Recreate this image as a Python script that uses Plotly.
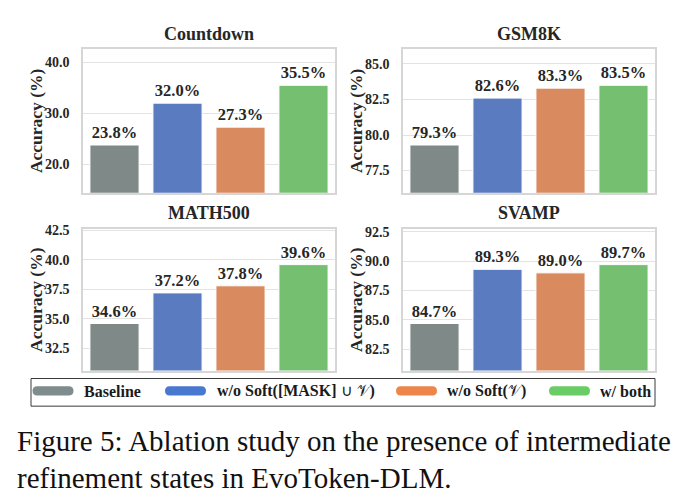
import math
import plotly.graph_objects as go

# ---------------- data ----------------
datasets = ["Countdown", "GSM8K", "MATH500", "SVAMP"]
methods = ["Baseline", "w/o Soft([MASK] ∪ 𝒱)", "w/o Soft(𝒱)", "w/ both"]
countdown = [23.8, 32.0, 27.3, 35.5]
gsm8k = [79.3, 82.6, 83.3, 83.5]
math500 = [34.6, 37.2, 37.8, 39.6]
svamp = [84.7, 89.3, 89.0, 89.7]
tick_steps = [10, 2.5, 2.5, 2.5]
ylabel = "Accuracy (%)"
caption_lines = [
    "Figure 5: Ablation study on the presence of intermediate",
    "refinement states in EvoToken-DLM.",
]

bar_colors = ["#7f8a88", "#5a7bbf", "#d98a5e", "#74c070"]
legend_colors = ["#7f8c8d", "#4878cf", "#ee854a", "#6acc64"]

W, H = 686, 503
SERIF = "Liberation Serif, Times New Roman, serif"
TXT = "#262626"


def px(p):
    return p / W


def py(p):
    return 1 - p / H


# panel boxes in pixels: (left, right, top, bottom)
boxes = [(83, 335, 44, 189), (403, 655, 44, 189),
         (83, 335, 226, 369), (403, 655, 226, 369)]
title_y = [28.5, 28.5, 209.5, 209.5]
values = [countdown, gsm8k, math500, svamp]

fig = go.Figure()
annotations = []
shapes = []

for i, (name, vals) in enumerate(zip(datasets, values)):
    ax = "" if i == 0 else str(i + 1)
    l, r, t, b = boxes[i]
    lo, hi = min(vals), max(vals)
    rng = hi - lo
    ymin, ymax = lo - 0.8 * rng, hi + 0.6 * rng
    fig.add_trace(go.Bar(
        x=methods, y=vals,
        xaxis="x" + ax, yaxis="y" + ax,
        marker=dict(color=bar_colors, line=dict(color="white", width=1)),
        width=0.78,
        text=[f"{v:.1f}%" for v in vals],
        textposition="outside",
        textfont=dict(family=SERIF, size=16.5, color=TXT, weight="bold"),
        cliponaxis=False,
        constraintext="none",
        showlegend=False,
        hoverinfo="skip",
    ))
    step = tick_steps[i]
    first = math.ceil(ymin / step) * step
    tv = []
    v = first
    while v <= ymax + 1e-9:
        tv.append(round(v, 4))
        v += step
    fig.update_layout(**{
        "xaxis" + ax: dict(domain=[px(l), px(r)], anchor="y" + ax,
                           range=[-0.5, 3.5], showticklabels=False,
                           showgrid=False, zeroline=False, ticks="",
                           showline=True, mirror=True, linecolor="#d6d6d6",
                           linewidth=1.5, fixedrange=True),
        "yaxis" + ax: dict(domain=[py(b), py(t)], anchor="x" + ax,
                           range=[ymin, ymax], tickvals=tv,
                           ticktext=[f"{x:.1f}" for x in tv],
                           showgrid=True, gridcolor="#e3e3e3", gridwidth=1,
                           zeroline=False, ticks="", ticklabelstandoff=9,
                           showline=True, mirror=True, linecolor="#d6d6d6",
                           linewidth=1.5,
                           tickfont=dict(family=SERIF, size=14, color=TXT,
                                         weight="bold"),
                           fixedrange=True),
    })
    # panel title
    annotations.append(dict(
        text=name, x=px((l + r) / 2), y=py(title_y[i]), xref="paper",
        yref="paper", xanchor="center", yanchor="middle", showarrow=False,
        font=dict(family=SERIF, size=18, color=TXT, weight="bold")))
    # y axis title
    annotations.append(dict(
        text=ylabel, x=px(l - 47), y=py((t + b) / 2), xref="paper",
        yref="paper", xanchor="center", yanchor="middle", showarrow=False,
        textangle=-90,
        font=dict(family=SERIF, size=17.5, color=TXT, weight="bold")))

# ---------------- custom legend ----------------
shapes.append(dict(type="rect", xref="paper", yref="paper",
                   x0=px(31), x1=px(655), y0=py(405), y1=py(377),
                   line=dict(color="#3a3a3a", width=1), fillcolor="white",
                   layer="below"))
patch_x = [53, 185.5, 416.5, 569.5]
text_x = [82, 215, 445, 598]
half_w, half_h = 20.5, 4.7
r_ = half_h
pill = (f"M {-half_w + r_},{-half_h} L {half_w - r_},{-half_h} "
        f"Q {half_w},{-half_h} {half_w},0 Q {half_w},{half_h} {half_w - r_},{half_h} "
        f"L {-half_w + r_},{half_h} Q {-half_w},{half_h} {-half_w},0 "
        f"Q {-half_w},{-half_h} {-half_w + r_},{-half_h} Z")
for m, c, xp, xt in zip(methods, legend_colors, patch_x, text_x):
    shapes.append(dict(type="path", xref="paper", yref="paper",
                       xsizemode="pixel", ysizemode="pixel",
                       xanchor=px(xp), yanchor=py(389.5), path=pill,
                       fillcolor=c, line=dict(width=0)))
    label = m.replace("∪ 𝒱", "<span style='font-weight:normal'>∪ 𝒱</span>")
    label = label.replace("(𝒱)", "(<span style='font-weight:normal'>𝒱</span>)")
    annotations.append(dict(
        text=label, x=px(xt), y=py(389.8), xref="paper", yref="paper",
        xanchor="left", yanchor="middle", showarrow=False,
        font=dict(family=SERIF, size=16, color="#1a1a1a", weight="bold")))

# ---------------- caption ----------------
for line, base in zip(caption_lines, [450, 488]):
    annotations.append(dict(
        text=line, x=px(15), y=py(base - 10), xref="paper", yref="paper",
        xanchor="left", yanchor="middle", showarrow=False,
        font=dict(family=SERIF, size=29, color="#111111")))

fig.update_layout(
    width=W, height=H,
    margin=dict(l=0, r=0, t=0, b=0),
    paper_bgcolor="white", plot_bgcolor="white",
    annotations=annotations, shapes=shapes,
    bargap=0.22,
)

fig.write_html("out.html")
